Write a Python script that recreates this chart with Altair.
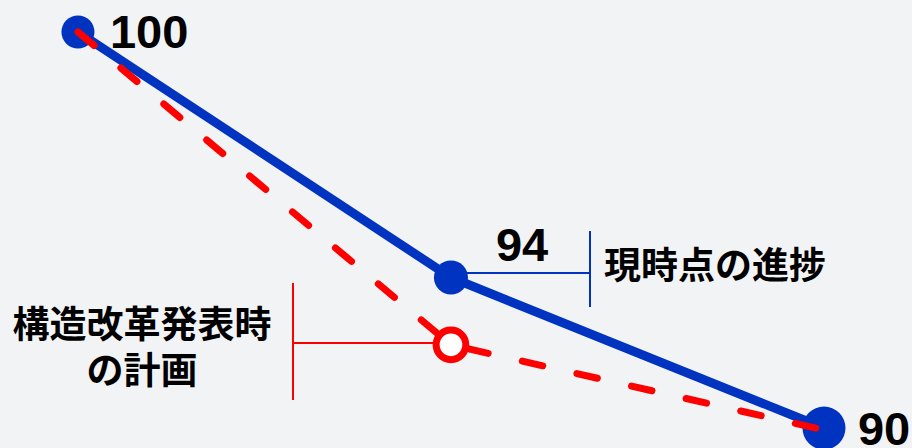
import altair as alt
import pandas as pd

# ---- data ----
steps = [0, 1, 2]
progress = [100, 93.8, 90.0]          # 現時点の進捗 (blue)
plan = [100, 92.1, 89.95]             # 構造改革発表時の計画 (red)
progress_labels = ["100", "94", "90"]
label_progress = "現時点の進捗"
label_plan = "構造改革発表時\nの計画"

BLUE = "#0033c0"
RED = "#ff0000"
BG = "#f2f3f5"

df_p = pd.DataFrame({"step": steps, "value": progress, "label": progress_labels})
df_r = pd.DataFrame({"step": steps, "value": plan})

x = alt.X("step:Q", scale=alt.Scale(domain=[-0.209, 2.236], nice=False, zero=False), axis=None)
y = alt.Y("value:Q", scale=alt.Scale(domain=[89.495, 100.808], nice=False, zero=False), axis=None)

base_p = alt.Chart(df_p).encode(x=x, y=y)
base_r = alt.Chart(df_r).encode(x=x, y=y)

blue_line = base_p.mark_line(color=BLUE, strokeWidth=9)
pt0 = base_p.transform_filter("datum.step == 0").mark_circle(color=BLUE, opacity=1, size=1090)
pt1 = base_p.transform_filter("datum.step == 1").mark_circle(color=BLUE, opacity=1, size=1160)
pt2 = base_p.transform_filter("datum.step == 2").mark_circle(color=BLUE, opacity=1, size=1850)
red_line = base_r.mark_line(color=RED, strokeWidth=7, strokeDash=[21, 35], strokeCap="round")
red_pt = base_r.transform_filter("datum.step == 1").mark_point(
    shape="circle", filled=True, fill="white", stroke=RED, strokeWidth=7, size=880, opacity=1
)

num_font = dict(font="Liberation Sans", fontWeight="bold", fontSize=47, color="black", baseline="middle", align="left")
t0 = base_p.transform_filter("datum.step == 0").mark_text(dx=32, dy=2, **num_font).encode(text="label:N")
t1 = base_p.transform_filter("datum.step == 1").mark_text(dx=45, dy=-31, **num_font).encode(text="label:N")
t2 = base_p.transform_filter("datum.step == 2").mark_text(dx=34, dy=3, **num_font).encode(text="label:N")

# annotation connectors
ann = pd.DataFrame({"a": [0]})
blue_h = alt.Chart(ann).mark_rule(color=BLUE, strokeWidth=2).encode(
    x=alt.value(452), x2=alt.value(590), y=alt.value(273), y2=alt.value(273))
blue_v = alt.Chart(ann).mark_rule(color=BLUE, strokeWidth=2).encode(
    x=alt.value(590), x2=alt.value(590), y=alt.value(231), y2=alt.value(307))
red_h = alt.Chart(ann).mark_rule(color=RED, strokeWidth=2).encode(
    x=alt.value(293), x2=alt.value(440), y=alt.value(343), y2=alt.value(343))
red_v = alt.Chart(ann).mark_rule(color=RED, strokeWidth=2).encode(
    x=alt.value(293), x2=alt.value(293), y=alt.value(283), y2=alt.value(400))

jp_font = dict(font="Noto Sans CJK JP", fontWeight="bold", fontSize=37, color="black", baseline="middle")
txt_prog = alt.Chart(ann).mark_text(align="left", **jp_font).encode(
    x=alt.value(604), y=alt.value(268), text=alt.value(label_progress))
txt_plan = alt.Chart(ann).mark_text(align="center", lineBreak="\n", lineHeight=46, **jp_font).encode(
    x=alt.value(142), y=alt.value(327), text=alt.value(label_plan))

chart = alt.layer(
    blue_h, blue_v, red_v, red_h,
    blue_line, pt0, pt1, pt2, red_line, red_pt,
    t0, t1, t2, txt_prog, txt_plan,
).properties(
    width=912, height=448, background=BG, padding=0, autosize=alt.AutoSizeParams(type="none")
).configure_view(stroke=None)

chart.save("out.html", embed_options={"renderer": "svg", "actions": False})
